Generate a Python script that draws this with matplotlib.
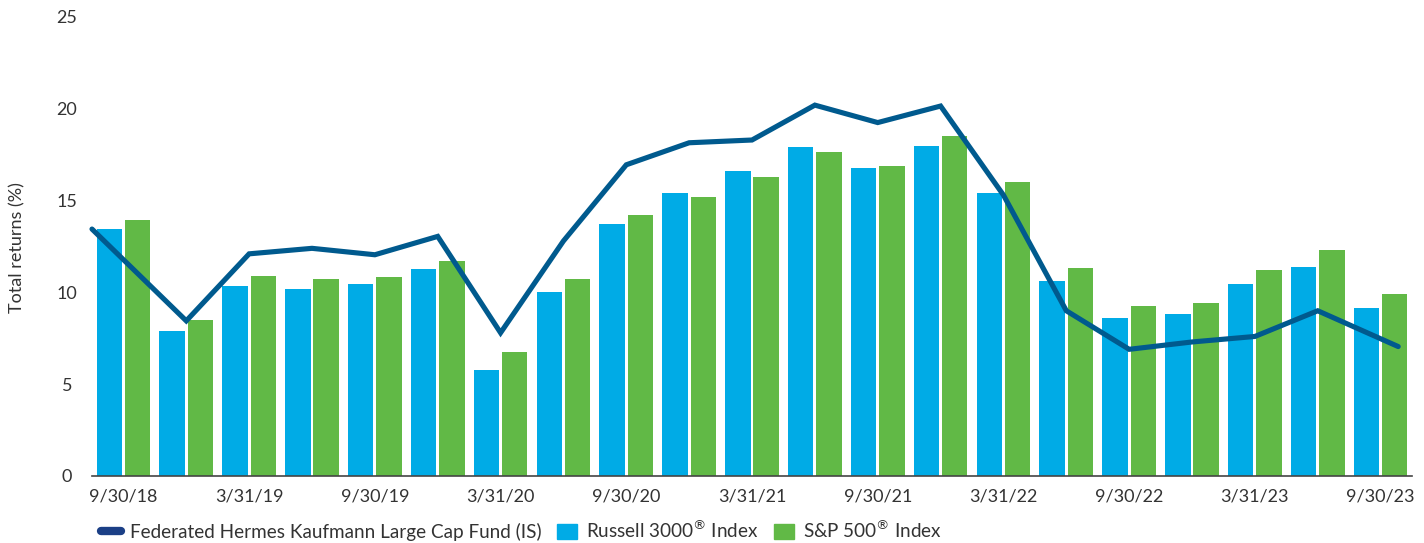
import numpy as np
import matplotlib
matplotlib.use("Agg")
import matplotlib.pyplot as plt
from matplotlib.lines import Line2D
from matplotlib.patches import Patch

plt.rcParams['font.family'] = ['Lato', 'DejaVu Sans']

categories = ["9/30/18", "12/31/18", "3/31/19", "6/30/19", "9/30/19", "12/31/19",
              "3/31/20", "6/30/20", "9/30/20", "12/31/20", "3/31/21", "6/30/21",
              "9/30/21", "12/31/21", "3/31/22", "6/30/22", "9/30/22", "12/31/22",
              "3/31/23", "6/30/23", "9/30/23"]
fund = [13.45, 8.45, 12.1, 12.4, 12.05, 13.05, 7.8, 12.8, 16.95, 18.15, 18.3,
        20.2, 19.25, 20.15, 15.3, 9.0, 6.9, 7.3, 7.6, 9.0, 7.05]
russell = [13.45, 7.9, 10.35, 10.2, 10.45, 11.3, 5.8, 10.0, 13.7, 15.4, 16.6,
           17.9, 16.8, 18.0, 15.4, 10.6, 8.6, 8.8, 10.45, 11.4, 9.15]
sp500 = [13.95, 8.5, 10.9, 10.75, 10.85, 11.7, 6.75, 10.75, 14.2, 15.2, 16.3,
         17.65, 16.9, 18.5, 16.0, 11.35, 9.25, 9.4, 11.2, 12.3, 9.9]
series_names = ["Federated Hermes Kaufmann Large Cap Fund (IS)",
                "Russell 3000$^{\\circledR}$ Index", "S&P 500$^{\\circledR}$ Index"]

c_line = "#005A8E"
c_blue = "#00ABE6"
c_green = "#61B946"
c_text = "#333333"

fig = plt.figure(figsize=(14.24, 5.43), dpi=100)
ax = fig.add_axes([0.0646, 0.1234, 0.9270, 0.8453])

n = len(categories)
x = np.arange(n)
bw = 0.405
ax.bar(x - 0.225, russell, width=bw, color=c_blue, zorder=2)
ax.bar(x + 0.225, sp500, width=bw, color=c_green, zorder=2)

lx = x.astype(float)
lx[0] -= 0.5
lx[-1] += 0.28
ax.plot(lx, fund, color=c_line, lw=3.7, solid_capstyle='round',
        solid_joinstyle='miter', zorder=3, clip_on=False)

ax.set_xlim(-0.5, n - 0.5)
ax.set_ylim(0, 25)
ax.set_yticks([0, 5, 10, 15, 20, 25])
ax.set_xticks(x[::2])
ax.set_xticklabels(categories[::2])
ax.tick_params(axis='both', length=0, labelsize=13, colors=c_text)
ax.tick_params(axis='x', pad=9)
for lbl in ax.get_yticklabels():
    lbl.set_horizontalalignment('center')
ax.tick_params(axis='y', pad=18)
for s in ['top', 'right', 'left']:
    ax.spines[s].set_visible(False)
ax.spines['bottom'].set_color('#444444')
ax.spines['bottom'].set_linewidth(1.2)
ax.spines['bottom'].set_zorder(4)
fig.text(17 / 1424, 1 - 248 / 543, "Total returns (%)", rotation=90,
         ha='center', va='center', fontsize=13, color=c_text)

handles = [Line2D([0], [0], color="#1B3F86", lw=6, solid_capstyle='round'),
           Patch(color=c_blue), Patch(color=c_green)]
fig.legend(handles, series_names, loc='center left', bbox_to_anchor=(0.059, 1 - 530 / 543),
           ncol=3, frameon=False, fontsize=13.6, labelcolor=c_text,
           handlelength=1.05, handleheight=0.9, handletextpad=0.5, columnspacing=0.8)

fig.savefig("out.png", dpi=100)
